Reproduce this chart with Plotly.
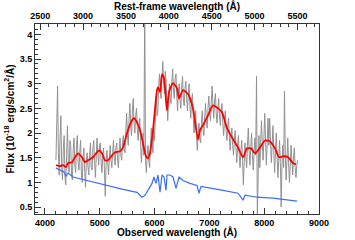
import plotly.graph_objects as go

# ---------------- data ----------------
Z_FACTOR = 1.565  # observed / rest-frame wavelength

# noisy observed spectrum (grey), sampled every 15 A from 4200 A
GRAY_START = 4200
GRAY_STEP = 15
gray_flux = [
    1.45, 2.10, 2.95, 1.60, 1.15, 1.90, 2.35, 1.30, 1.05, 1.70, 1.95, 1.10, 0.95, 1.55, 2.15, 1.40, 1.20, 1.85, 1.75, 1.15,
    1.05, 1.65, 1.90, 1.35, 1.20, 1.75, 1.95, 1.40, 1.25, 1.60, 1.85, 1.15, 1.00, 1.50, 1.70, 1.20, 0.90, 1.45, 1.60, 1.30,
    1.15, 1.55, 1.80, 1.30, 1.25, 1.70, 1.85, 1.45, 1.10, 1.50, 1.90, 1.55, 1.35, 1.75, 1.80, 1.40, 1.20, 1.55, 1.70, 1.25,
    0.72, 1.35, 1.65, 1.40, 1.15, 1.50, 1.75, 1.45, 1.30, 1.60, 1.85, 1.50, 1.35, 1.70, 1.80, 1.45, 1.30, 1.65, 1.90, 1.55,
    1.45, 1.80, 1.95, 1.70, 1.60, 2.05, 2.40, 1.95, 1.75, 2.30, 2.60, 2.15, 1.95, 2.45, 2.70, 2.20, 2.00, 2.35, 2.50, 2.10,
    1.85, 2.15, 2.30, 1.75, 1.40, 1.70, 2.00, 1.55, 4.60, 1.45, 1.20, 1.55, 1.75, 1.45, 1.30, 1.75, 2.10, 1.80, 1.60, 2.10,
    1.85, 2.40, 2.75, 2.35, 2.45, 2.95, 3.20, 2.80, 2.70, 3.15, 3.45, 3.00, 2.80, 3.25, 3.05, 2.60, 2.25, 2.65, 3.00, 2.70,
    2.60, 3.05, 3.30, 2.85, 2.70, 3.10, 3.20, 2.75, 2.45, 2.85, 3.00, 2.65, 2.50, 2.95, 3.15, 2.70, 2.55, 2.90, 3.05, 2.70,
    2.45, 2.80, 3.00, 2.55, 2.30, 2.65, 2.80, 2.35, 2.00, 2.30, 2.45, 1.95, 1.65, 1.95, 2.20, 1.90, 1.80, 2.20, 2.45, 2.10,
    1.95, 2.35, 2.60, 2.25, 2.10, 2.50, 2.75, 2.40, 2.25, 2.65, 2.95, 2.55, 2.30, 2.65, 2.80, 2.40, 2.20, 2.50, 2.70, 2.35,
    2.15, 2.45, 2.60, 2.20, 1.95, 2.25, 2.45, 2.05, 1.85, 2.15, 2.30, 1.90, 1.65, 1.95, 2.10, 1.75, 1.55, 1.85, 2.05, 1.70,
    1.40, 1.75, 1.95, 1.55, 1.30, 1.65, 1.85, 1.45, 0.95, 1.40, 1.80, 1.50, 1.30, 1.75, 2.10, 1.65, 1.35, 1.70, 2.00, 1.55,
    1.25, 1.60, 1.90, 1.55, 3.15, 0.30, 1.60, 1.95, 1.30, 1.75, 2.25, 1.80, 1.45, 1.90, 2.40, 1.85, 1.35, 1.80, 2.30, 1.75,
    2.30, 1.85, 1.40, 1.75, 2.15, 1.65, 1.20, 1.60, 2.00, 1.55, 1.10, 1.45, 1.85, 1.40, 0.50, 1.35, 1.75, 1.30, 2.85, 1.60,
    1.05, 1.45, 1.90, 1.40, 1.00, 1.35, 1.75, 1.45, 1.15, 1.50, 1.70, 1.30, 1.10, 1.35, 1.45,
]
gray_wave = [GRAY_START + GRAY_STEP * i for i in range(len(gray_flux))]

# smoothed spectrum (red)
red_wave = [4201, 4274, 4329, 4383, 4420, 4493, 4548, 4602, 4675, 4730,
            4785, 4876, 4949, 4986, 5040, 5095, 5150, 5223, 5278, 5369,
            5424, 5497, 5570, 5624, 5679, 5734, 5789, 5843, 5880, 5916,
            5971, 6044, 6062, 6099, 6135, 6172, 6208, 6227, 6263, 6336,
            6409, 6446, 6519, 6610, 6701, 6792, 6829, 6884, 6975, 7066,
            7157, 7230, 7322, 7413, 7522, 7614, 7687, 7760, 7833, 7924,
            8015, 8106, 8198, 8271, 8362, 8435, 8526, 8581]
red_flux = [1.35, 1.33, 1.35, 1.31, 1.39, 1.41, 1.51, 1.59, 1.51, 1.41,
            1.45, 1.51, 1.61, 1.65, 1.59, 1.45, 1.45, 1.55, 1.61, 1.63,
            1.71, 2.00, 2.22, 2.30, 2.22, 2.06, 1.79, 1.53, 1.49, 1.59,
            2.06, 2.87, 2.93, 2.83, 3.19, 3.11, 2.66, 2.46, 2.83, 3.01,
            2.91, 2.70, 2.87, 2.79, 2.50, 1.87, 2.06, 2.16, 2.36, 2.56,
            2.50, 2.42, 2.10, 1.91, 1.71, 1.51, 1.69, 1.69, 1.59, 1.71,
            1.85, 1.83, 1.69, 1.51, 1.53, 1.51, 1.39, 1.37]

# model (blue)
blue_wave = [4201, 4274, 4347, 4383, 4420, 4511, 4821, 5132, 5424, 5679,
             5734, 5770, 5825, 5880, 5953, 5989, 6026, 6062, 6099, 6135,
             6172, 6208, 6227, 6281, 6336, 6391, 6446, 6519, 6646, 6774,
             6810, 6847, 6956, 7248, 7522, 7614, 7650, 7869, 8161, 8599]
blue_flux = [1.29, 1.25, 1.21, 1.13, 1.19, 1.11, 1.02, 0.94, 0.86, 0.80,
             0.74, 0.70, 0.74, 0.84, 0.98, 1.11, 0.98, 1.15, 0.80, 1.15,
             1.11, 0.84, 1.15, 1.15, 1.11, 0.88, 1.11, 1.04, 0.98, 0.94,
             0.78, 0.92, 0.90, 0.84, 0.78, 0.64, 0.74, 0.70, 0.68, 0.62]

obs_ticks = [4000, 5000, 6000, 7000, 8000, 9000]
rest_ticks = [2500, 3000, 3500, 4000, 4500, 5000, 5500]
flux_ticks = [0.5, 1, 1.5, 2, 2.5, 3, 3.5, 4]
flux_labels = ["0.5", "1", "1.5", "2", "2.5", "3", "3.5", "4"]

X_RANGE = [3818, 9000]
Y_RANGE = [0.36, 4.21]

# ---------------- figure ----------------
FONT = "Liberation Sans"
AX = "#333333"

fig = go.Figure()
fig.add_trace(go.Scatter(x=gray_wave, y=gray_flux, mode="lines",
                         line=dict(color="rgb(145,145,145)", width=1),
                         hoverinfo="skip", showlegend=False))
fig.add_trace(go.Scatter(x=red_wave, y=red_flux, mode="lines",
                         line=dict(color="#ff0000", width=1.8, shape="spline", smoothing=0.6),
                         showlegend=False))
fig.add_trace(go.Scatter(x=blue_wave, y=blue_flux, mode="lines",
                         line=dict(color="#3d6dff", width=1.2),
                         showlegend=False))
# top (rest-frame) axis carrier
fig.add_trace(go.Scatter(x=[w / Z_FACTOR for w in X_RANGE], y=[None, None],
                         xaxis="x2", mode="lines", showlegend=False, hoverinfo="skip"))

tickfont = dict(family=FONT, size=9, color="black", weight="bold")
titlefont = dict(family=FONT, size=10, color="black", weight="bold")

fig.update_layout(
    width=355, height=240,
    margin=dict(l=35, r=36, t=24, b=26),
    paper_bgcolor="white", plot_bgcolor="white",
    xaxis=dict(range=X_RANGE, tickvals=obs_ticks, ticks="inside", ticklen=6,
               tickcolor=AX, tickwidth=1, automargin=False,
               minor=dict(dtick=200, tick0=4000, ticks="inside", ticklen=3, tickcolor=AX),
               showline=True, linecolor=AX, linewidth=1, mirror=False,
               showgrid=False, zeroline=False, tickfont=tickfont),
    xaxis2=dict(range=[w / Z_FACTOR for w in X_RANGE], overlaying="x", side="top",
                anchor="y", tickvals=rest_ticks, ticks="inside", ticklen=6,
                tickcolor=AX, tickwidth=1, automargin=False,
                minor=dict(dtick=100, tick0=2500, ticks="inside", ticklen=3, tickcolor=AX),
                showline=True, linecolor=AX, linewidth=1,
                showgrid=False, zeroline=False, tickfont=tickfont),
    yaxis=dict(range=Y_RANGE, tickvals=flux_ticks, ticktext=flux_labels,
               ticks="inside", ticklen=6, tickcolor=AX, tickwidth=1, automargin=False,
               minor=dict(dtick=0.1, tick0=0, ticks="inside", ticklen=3, tickcolor=AX),
               showline=True, linecolor=AX, linewidth=1, mirror=True,
               showgrid=False, zeroline=False, tickfont=tickfont,
               title=dict(text="Flux (10<sup>-18</sup> erg/s/cm<sup>2</sup>/Å)",
                          font=titlefont, standoff=3)),
    annotations=[
        dict(text="Observed wavelength (Å)", xref="paper", yref="paper",
             x=0.5, y=0, yanchor="middle", yshift=-18, showarrow=False, font=titlefont),
        dict(text="Rest-frame wavelength (Å)", xref="paper", yref="paper",
             x=0.5, y=1, yanchor="middle", yshift=18, showarrow=False, font=titlefont),
    ],
)

fig.write_html("out.html", config={"displayModeBar": False},
               post_script="document.body.style.margin='0px';")
